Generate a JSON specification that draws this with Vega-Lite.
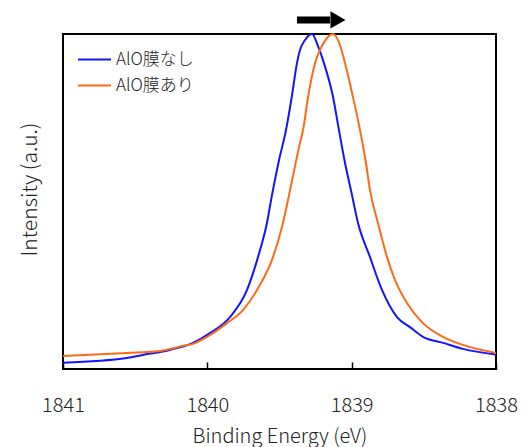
{
  "$schema": "https://vega.github.io/schema/vega-lite/v6.json",
  "width": 433,
  "height": 335,
  "autosize": "none",
  "padding": {"left": 63, "top": 34, "right": 28, "bottom": 78},
  "background": "white",
  "config": {
    "view": {"stroke": "black", "strokeWidth": 2},
    "font": "Noto Sans CJK JP"
  },
  "datasets": {
    "spectra": [
      {"series": "AlO膜なし", "energy": 1841.000, "intensity": 0.019},
      {"series": "AlO膜なし", "energy": 1840.557, "intensity": 0.033},
      {"series": "AlO膜なし", "energy": 1840.397, "intensity": 0.046},
      {"series": "AlO膜なし", "energy": 1840.328, "intensity": 0.051},
      {"series": "AlO膜なし", "energy": 1840.259, "intensity": 0.057},
      {"series": "AlO膜なし", "energy": 1840.099, "intensity": 0.078},
      {"series": "AlO膜なし", "energy": 1839.982, "intensity": 0.107},
      {"series": "AlO膜なし", "energy": 1839.843, "intensity": 0.155},
      {"series": "AlO膜なし", "energy": 1839.725, "intensity": 0.236},
      {"series": "AlO膜なし", "energy": 1839.649, "intensity": 0.334},
      {"series": "AlO膜なし", "energy": 1839.587, "intensity": 0.436},
      {"series": "AlO膜なし", "energy": 1839.552, "intensity": 0.519},
      {"series": "AlO膜なし", "energy": 1839.503, "intensity": 0.624},
      {"series": "AlO膜なし", "energy": 1839.455, "intensity": 0.713},
      {"series": "AlO膜なし", "energy": 1839.413, "intensity": 0.818},
      {"series": "AlO膜なし", "energy": 1839.379, "intensity": 0.913},
      {"series": "AlO膜なし", "energy": 1839.358, "intensity": 0.952},
      {"series": "AlO膜なし", "energy": 1839.323, "intensity": 0.982},
      {"series": "AlO膜なし", "energy": 1839.275, "intensity": 1.000},
      {"series": "AlO膜なし", "energy": 1839.233, "intensity": 0.964},
      {"series": "AlO膜なし", "energy": 1839.192, "intensity": 0.913},
      {"series": "AlO膜なし", "energy": 1839.129, "intensity": 0.812},
      {"series": "AlO膜なし", "energy": 1839.088, "intensity": 0.713},
      {"series": "AlO膜なし", "energy": 1839.046, "intensity": 0.615},
      {"series": "AlO膜なし", "energy": 1839.005, "intensity": 0.534},
      {"series": "AlO膜なし", "energy": 1838.956, "intensity": 0.436},
      {"series": "AlO膜なし", "energy": 1838.873, "intensity": 0.334},
      {"series": "AlO膜なし", "energy": 1838.790, "intensity": 0.236},
      {"series": "AlO膜なし", "energy": 1838.686, "intensity": 0.155},
      {"series": "AlO膜なし", "energy": 1838.596, "intensity": 0.125},
      {"series": "AlO膜なし", "energy": 1838.506, "intensity": 0.096},
      {"series": "AlO膜なし", "energy": 1838.367, "intensity": 0.078},
      {"series": "AlO膜なし", "energy": 1838.229, "intensity": 0.060},
      {"series": "AlO膜なし", "energy": 1838.000, "intensity": 0.043},
      {"series": "AlO膜あり", "energy": 1841.000, "intensity": 0.039},
      {"series": "AlO膜あり", "energy": 1840.557, "intensity": 0.048},
      {"series": "AlO膜あり", "energy": 1840.328, "intensity": 0.054},
      {"series": "AlO膜あり", "energy": 1840.169, "intensity": 0.069},
      {"series": "AlO膜あり", "energy": 1840.099, "intensity": 0.075},
      {"series": "AlO膜あり", "energy": 1840.002, "intensity": 0.096},
      {"series": "AlO膜あり", "energy": 1839.864, "intensity": 0.137},
      {"series": "AlO膜あり", "energy": 1839.753, "intensity": 0.176},
      {"series": "AlO膜あり", "energy": 1839.656, "intensity": 0.236},
      {"series": "AlO膜あり", "energy": 1839.545, "intensity": 0.334},
      {"series": "AlO膜あり", "energy": 1839.476, "intensity": 0.436},
      {"series": "AlO膜あり", "energy": 1839.434, "intensity": 0.519},
      {"series": "AlO膜あり", "energy": 1839.358, "intensity": 0.675},
      {"series": "AlO膜あり", "energy": 1839.337, "intensity": 0.713},
      {"series": "AlO膜あり", "energy": 1839.302, "intensity": 0.812},
      {"series": "AlO膜あり", "energy": 1839.254, "intensity": 0.913},
      {"series": "AlO膜あり", "energy": 1839.206, "intensity": 0.964},
      {"series": "AlO膜あり", "energy": 1839.171, "intensity": 0.988},
      {"series": "AlO膜あり", "energy": 1839.129, "intensity": 1.000},
      {"series": "AlO膜あり", "energy": 1839.081, "intensity": 0.967},
      {"series": "AlO膜あり", "energy": 1839.046, "intensity": 0.913},
      {"series": "AlO膜あり", "energy": 1838.991, "intensity": 0.812},
      {"series": "AlO膜あり", "energy": 1838.942, "intensity": 0.713},
      {"series": "AlO膜あり", "energy": 1838.901, "intensity": 0.615},
      {"series": "AlO膜あり", "energy": 1838.873, "intensity": 0.534},
      {"series": "AlO膜あり", "energy": 1838.818, "intensity": 0.436},
      {"series": "AlO膜あり", "energy": 1838.755, "intensity": 0.334},
      {"series": "AlO膜あり", "energy": 1838.700, "intensity": 0.266},
      {"series": "AlO膜あり", "energy": 1838.617, "intensity": 0.197},
      {"series": "AlO膜あり", "energy": 1838.506, "intensity": 0.137},
      {"series": "AlO膜あり", "energy": 1838.367, "intensity": 0.096},
      {"series": "AlO膜あり", "energy": 1838.229, "intensity": 0.072},
      {"series": "AlO膜あり", "energy": 1838.000, "intensity": 0.048}
    ],
    "arrow": [
      {"x1": 1839.379, "x2": 1839.150, "head": 1839.095, "y": 1.042}
    ]
  },
  "layer": [
    {
      "data": {"name": "spectra"},
      "mark": {"type": "line", "strokeWidth": 2, "interpolate": "monotone"},
      "encoding": {
        "x": {
          "field": "energy",
          "type": "quantitative",
          "scale": {"domain": [1838, 1841], "reverse": true, "nice": false, "zero": false},
          "axis": {
            "values": [1838, 1839, 1840, 1841],
            "format": "d",
            "title": "Binding Energy (eV)",
            "domain": false,
            "grid": false,
            "tickSize": -7,
            "tickColor": "black",
            "tickWidth": 1.5,
            "labelPadding": 33,
            "labelFontSize": 20,
            "labelColor": "#222",
            "labelFont": "Noto Sans CJK JP",
            "labelFontWeight": 300,
            "labelFlush": false,
            "titleFontSize": 20,
            "titleFontWeight": 300,
            "titleColor": "#222",
            "titlePadding": 11
          }
        },
        "y": {
          "field": "intensity",
          "type": "quantitative",
          "scale": {"domain": [0, 1], "nice": false},
          "axis": {
            "title": "Intensity (a.u.)",
            "domain": false,
            "grid": false,
            "ticks": false,
            "labels": false,
            "titleFontSize": 21,
            "titleFontWeight": 300,
            "titleColor": "#222",
            "titlePadding": 23,
            "titleY": 155
          }
        },
        "color": {
          "field": "series",
          "type": "nominal",
          "scale": {"domain": ["AlO膜なし", "AlO膜あり"], "range": ["#1414ff", "#ff6a14"]},
          "legend": {
            "title": null,
            "orient": "none",
            "legendX": 14,
            "legendY": 8,
            "padding": 0,
            "symbolType": "stroke",
            "symbolSize": 1089,
            "symbolStrokeWidth": 2,
            "labelFontSize": 17,
            "labelFontWeight": 300,
            "labelColor": "#222",
            "labelOffset": 4,
            "rowPadding": 0
          }
        },
        "order": {"field": "energy", "type": "quantitative"}
      }
    },
    {
      "data": {"name": "arrow"},
      "mark": {"type": "rule", "color": "black", "strokeWidth": 7},
      "encoding": {
        "x": {"field": "x1", "type": "quantitative"},
        "x2": {"field": "x2"},
        "y": {"field": "y", "type": "quantitative"}
      }
    },
    {
      "data": {"name": "arrow"},
      "mark": {"type": "point", "shape": "triangle-right", "filled": true, "color": "black", "size": 300, "opacity": 1},
      "encoding": {
        "x": {"field": "head", "type": "quantitative"},
        "y": {"field": "y", "type": "quantitative"}
      }
    }
  ]
}
